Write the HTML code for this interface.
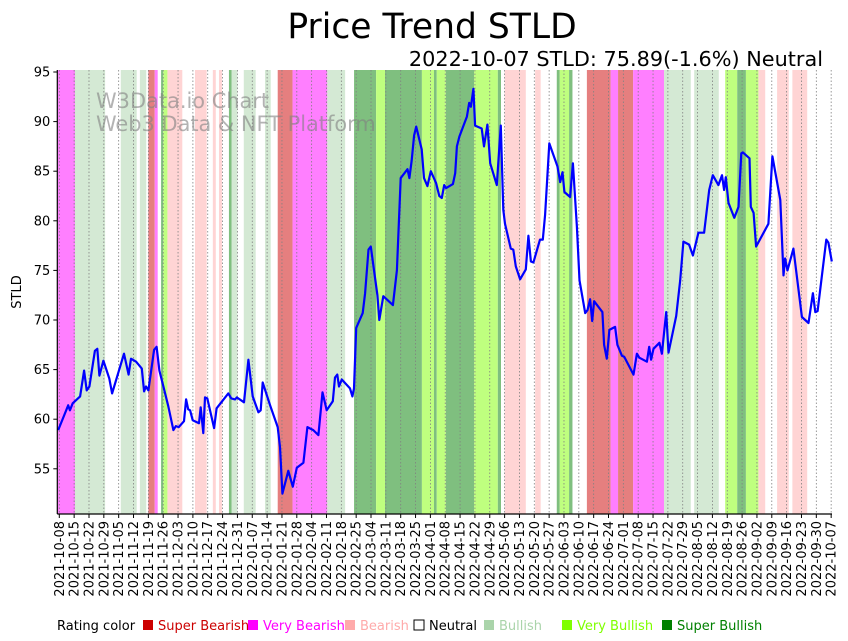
<!DOCTYPE html>
<html><head><meta charset="utf-8"><style>
html,body{margin:0;padding:0;background:#fff;}
svg{display:block;font-family:"DejaVu Sans","Liberation Sans",sans-serif;}
</style></head><body>
<svg id="chart" width="848" height="641" viewBox="0 0 848 641" xmlns="http://www.w3.org/2000/svg">
<text x="432" y="38" font-size="34.5" text-anchor="middle" fill="#000">Price Trend STLD</text>
<text x="823" y="66" font-size="20.8" text-anchor="end" fill="#000">2022-10-07 STLD: 75.89(-1.6%) Neutral</text>
<g id="bands"></g>
<g id="grid"></g>
<text x="96" y="108" font-size="20.9" fill="#808080" fill-opacity="0.6">W3Data.io Chart</text>
<text x="96" y="131" font-size="20.9" fill="#808080" fill-opacity="0.6">Web3 Data &amp; NFT Platform</text>
<path id="line" fill="none" stroke="#0000ff" stroke-width="2.2" stroke-linejoin="round"></path>
<g id="axes"></g>
<text transform="translate(21,292) rotate(-90)" font-size="13" text-anchor="middle">STLD</text>
<g id="legend"></g>
</svg>
<script>
const startDate = "2021-10-08";
const priceDays = [-0.5,4.2,5.0,6.3,9.8,11.7,12.9,14.2,16.8,17.9,18.9,20.8,23.6,24.9,30.5,32.7,33.8,36.2,38.9,40.0,40.9,42.0,44.7,45.9,47.2,49.1,51.4,53.8,55.0,56.3,58.8,59.8,60.8,61.7,62.9,65.9,66.7,67.9,68.7,69.8,73.0,74.2,79.7,81.1,82.9,83.7,87.1,89.2,91.2,93.9,95.0,95.9,99.4,103.0,104.1,105.2,108.0,110.1,112.0,115.1,117.0,119.8,122.2,124.1,126.1,129.0,130.0,131.1,131.9,133.2,137.1,138.2,139.0,140.0,143.1,144.2,145.8,146.9,150.0,150.9,152.8,157.3,159.2,161.0,164.2,165.1,166.2,167.3,168.3,170.9,172.0,173.6,175.2,177.7,179.2,180.4,181.5,182.4,185.6,186.7,187.5,188.7,192.2,193.3,194.1,195.3,196.1,199.2,200.3,201.9,203.2,206.3,208.2,209.4,210.2,212.9,214.1,215.3,217.3,220.0,221.2,222.4,223.6,226.7,228.0,229.1,231.1,234.9,236.2,237.3,238.2,240.9,242.2,244.1,245.3,248.0,249.1,250.3,251.3,252.2,256.1,256.9,258.2,259.4,262.1,263.2,265.3,266.4,270.8,272.4,273.5,277.1,278.2,279.1,280.2,283.0,284.2,286.2,287.3,290.9,292.8,294.3,297.0,298.8,301.4,304.1,306.5,308.2,310.8,312.5,313.5,314.3,315.6,318.3,320.3,321.6,322.4,325.5,326.1,327.4,328.6,334.4,336.3,340.0,341.5,342.3,343.4,346.2,350.2,353.3,355.4,356.5,357.6,361.7,362.7,364.3];
const priceValues = [58.9,61.4,60.9,61.6,62.3,64.9,62.9,63.3,66.9,67.1,64.4,65.9,64.1,62.6,66.6,64.5,66.1,65.8,65.1,62.8,63.3,62.9,67.0,67.3,64.9,63.3,61.3,58.9,59.3,59.2,59.8,62.0,61.0,60.9,59.9,59.6,61.2,58.6,62.2,62.1,59.1,61.1,62.6,62.1,62.0,62.2,61.7,66.0,62.3,60.7,60.9,63.7,61.4,59.2,57.2,52.5,54.8,53.2,55.1,55.6,59.2,58.9,58.4,62.7,60.9,61.8,64.2,64.5,63.3,64.0,63.1,62.3,63.1,69.2,70.7,72.7,77.1,77.4,72.5,70.0,72.4,71.5,75.0,84.3,85.2,84.3,86.1,88.6,89.5,87.2,84.3,83.5,85.0,83.8,82.5,82.3,83.6,83.3,83.7,84.8,87.5,88.5,90.5,91.9,91.5,93.3,89.6,89.3,87.5,89.7,85.8,83.6,89.6,81.1,79.7,77.2,77.1,75.4,74.1,75.1,78.5,75.9,75.8,78.1,78.1,80.6,87.8,85.5,83.9,84.9,82.9,82.4,85.8,79.4,74.0,70.7,71.0,72.1,69.9,71.9,70.8,67.5,66.1,69.0,69.3,67.5,66.4,66.3,64.5,66.6,66.2,65.8,67.3,66.0,67.1,67.7,66.6,70.8,66.7,70.4,74.0,77.9,77.6,76.5,78.8,78.8,83.1,84.6,83.6,84.6,83.1,84.4,81.8,80.3,81.4,86.8,86.9,86.3,81.4,80.8,77.4,79.7,86.5,82.1,74.5,76.2,75.0,77.2,70.3,69.7,72.7,70.8,70.9,78.1,77.8,75.9];
const bandStart = [-0.8,7.4,29,38,42,45,48,49,51,64,72.4,75.3,80,81.3,87,97,103,110,126.4,139,149.4,153.6,171,176.7,178,182.3,195.6,206.8,210,224.4,234.6,236,240.4,248.8,260,263.5,270.6,285.2,299.4,314,319.7,323.8,329.7,338.5,345.7];
const bandEnd =   [7.4,21.6,36.5,41,45,46.4,49,51,58,69.5,73.8,76.7,81.3,84,92.6,99.7,110,126.4,134.8,149.4,153.6,171,176.7,178,182.3,195.6,206.8,208.3,220,227,236,240.4,242,260,263.5,270.6,285.2,297.8,311,319.7,323.8,329.7,332.9,344,352.7];
const bandRating = ["VB-","B+","B+","B+","SB-","VB-","SB+","VB+","B-","B-","B-","B-","SB+","B+","B+","B+","SB-","VB-","B+","SB+","VB+","SB+","VB+","SB+","VB+","SB+","VB+","SB+","B-","B-","SB+","VB+","SB+","SB-","VB-","SB-","VB-","B+","B+","VB+","SB+","VB+","B-","B-","B-"];
const yTicks = [55,60,65,70,75,80,85,90,95];
const legendLabels = ["Super Bearish","Very Bearish","Bearish","Neutral","Bullish","Very Bullish","Super Bullish"];

const bandColor = {"SB-":"#e57f7f","VB-":"#ff7fff","B-":"#ffd4d4","B+":"#d4e9d4","VB+":"#bfff7f","SB+":"#7fbf7f"};
const legendFill = ["#cc0000","#ff00ff","#ffaaaa","#ffffff","#aad4aa","#7fff00","#008000"];
const legendText = ["#cc0000","#ff00ff","#ffaaaa","#000000","#aad4aa","#7fff00","#008000"];
const legendX = [143,248,345,414,484,562,662];

const NS = "http://www.w3.org/2000/svg";
const L = 57.3, R = 832, T = 70, B = 514;
const x = d => 59.3 + d * 2.1205;
const y = v => 72 + (95 - v) * 9.92;
function mk(tag, attrs, parent) { const e = document.createElementNS(NS, tag); for (const k in attrs) e.setAttribute(k, attrs[k]); parent.appendChild(e); return e; }

const bands = document.getElementById('bands');
bandStart.forEach((s, i) => {
  const r = mk('rect', {x: Math.max(L, x(s)), y: T, width: Math.min(R, x(bandEnd[i])) - Math.max(L, x(s)), height: B - T, fill: bandColor[bandRating[i]]}, bands);
  
  
});

const grid = document.getElementById('grid');
const axes = document.getElementById('axes');
const d0 = new Date(startDate + "T00:00:00Z");
for (let w = 0; w <= 52; w++) {
  const d = w * 7;
  const gx = x(d);
  const gl = mk('line', {x1: gx, x2: gx, y1: T, y2: B, stroke: '#808080', 'stroke-width': 0.8, 'stroke-dasharray': '1.5,2'}, grid);
  
  
  const tk = mk('line', {x1: gx, x2: gx, y1: B, y2: B + 4, stroke: '#000', 'stroke-width': 1}, axes);
  
  
  const dt = new Date(d0.getTime() + d * 86400000);
  const lbl = dt.toISOString().slice(0, 10);
  const t = mk('text', {transform: `translate(${gx + 4.5},${B + 7}) rotate(-90)`, 'font-size': 13, 'text-anchor': 'end'}, axes);
  t.textContent = lbl;
  
  
}
yTicks.forEach(v => {
  const tk = mk('line', {x1: L - 4, x2: L, y1: y(v), y2: y(v), stroke: '#000'}, axes);
  
  
  const t = mk('text', {x: L - 7, y: y(v) + 4.5, 'font-size': 13, 'text-anchor': 'end'}, axes);
  t.textContent = v;
  
  
});
const ls = mk('line', {x1: L, x2: L, y1: T, y2: B, stroke: '#000', 'stroke-width': 1.2}, axes);


const bs = mk('line', {x1: L, x2: R, y1: B, y2: B, stroke: '#000', 'stroke-width': 1.2}, axes);



document.getElementById('line').setAttribute('d', priceDays.map((d, i) => (i ? 'L' : 'M') + Math.max(L, x(d)).toFixed(1) + ',' + y(priceValues[i]).toFixed(1)).join(''));

const lg = document.getElementById('legend');
const lt = mk('text', {x: 57, y: 630, 'font-size': 13, fill: '#000'}, lg);
lt.textContent = 'Rating color';


legendLabels.forEach((lab, i) => {
  const sq = mk('rect', {x: legendX[i], y: 620, width: 10, height: 10, fill: legendFill[i], stroke: i === 3 ? '#000' : 'none', 'stroke-width': 1}, lg);
  
  
  const t = mk('text', {x: legendX[i] + 15, y: 630, 'font-size': 13, fill: legendText[i]}, lg);
  t.textContent = lab;
  
  
});
</script>
</body></html>
